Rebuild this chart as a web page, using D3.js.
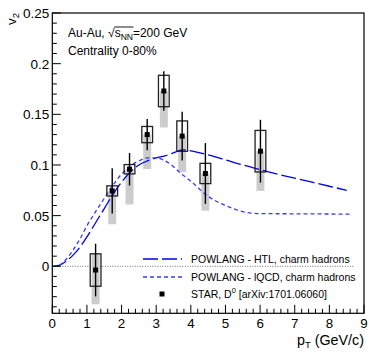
<!DOCTYPE html>
<html><head><meta charset="utf-8">
<script src="https://cdn.jsdelivr.net/npm/d3@7"></script>
<style>body{margin:0;background:#fff;} svg{display:block;font-family:"Liberation Sans",Arial,sans-serif;}</style>
</head><body>
<svg id="c" width="369" height="353"></svg>
<script>
// ---- data ----
const ptData   = [1.25, 1.73, 2.23, 2.74, 3.22, 3.75, 4.42, 6.01];
const v2Data   = [-0.0037, 0.0744, 0.0958, 0.130, 0.173, 0.1285, 0.0916, 0.1136];
const statErr  = [0.026, 0.0224, 0.016, 0.0155, 0.0195, 0.024, 0.030, 0.031];
const sysErr   = [0.016, 0.005, 0.0046, 0.008, 0.0155, 0.015, 0.010, 0.0205];
const nonflowHigh = [0.0125, 0.0744, 0.0958, 0.130, 0.173, 0.1285, 0.0916, 0.1136];
const nonflowLow  = [-0.0375, 0.0415, 0.061, 0.096, 0.137, 0.093, 0.055, 0.0744];

const htlPt = [0, 0.2, 0.4, 0.6, 0.8, 1.0, 1.25, 1.5, 1.75, 2.0, 2.25, 2.5, 2.75, 3.0, 3.25, 3.5, 3.75, 4.0, 4.5, 5.0, 5.5, 6.0, 6.5, 7.0, 7.5, 8.0, 8.5];
const htlV2 = [0, 0.001, 0.005, 0.011, 0.019, 0.029, 0.043, 0.057, 0.071, 0.083, 0.093, 0.100, 0.104, 0.107, 0.109, 0.112, 0.115, 0.114, 0.110, 0.105, 0.100, 0.0955, 0.091, 0.087, 0.083, 0.079, 0.075];
const lqcdPt = [0, 0.2, 0.4, 0.6, 0.8, 1.0, 1.25, 1.5, 1.75, 2.0, 2.25, 2.5, 2.75, 3.0, 3.2, 3.4, 3.7, 4.0, 4.5, 5.0, 5.5, 5.75, 6.0, 7.0, 8.0, 8.6];
const lqcdV2 = [0, 0.001, 0.007, 0.016, 0.027, 0.040, 0.054, 0.067, 0.080, 0.091, 0.099, 0.104, 0.107, 0.107, 0.105, 0.101, 0.092, 0.084, 0.069, 0.060, 0.054, 0.0525, 0.052, 0.0518, 0.0516, 0.0515];

const xTicks = [0,1,2,3,4,5,6,7,8,9];
const yTicks = [0, 0.05, 0.1, 0.15, 0.2, 0.25];
const yTickLabels = ["0","0.05","0.1","0.15","0.2","0.25"];
const legendLabels = ["POWLANG - HTL, charm hadrons", "POWLANG - lQCD, charm hadrons", "STAR, D", " [arXiv:1701.06060]"];

// ---- layout ----
const svg = d3.select("#c");
const L = 52.3, R = 364, T = 13, B = 313.3;
const x = d3.scaleLinear().domain([0, 9]).range([L, R]);
const y = d3.scaleLinear().domain([-0.0464, 0.25]).range([B, T]);

svg.append("defs").append("clipPath").attr("id","clip")
  .append("rect").attr("x",L).attr("y",T).attr("width",R-L).attr("height",B-T);

// zero line
svg.append("line").attr("x1",x(0)).attr("x2",x(8.7)).attr("y1",y(0)).attr("y2",y(0))
  .attr("stroke","#888").attr("stroke-width",1.2).attr("stroke-dasharray","1,1.5");

const pts = ptData.map((p,i)=>({p, v:v2Data[i], s:statErr[i], sy:sysErr[i], lo:nonflowLow[i], hi:nonflowHigh[i]}));
const dx = 0.155, gdx = 0.115;

// gray non-flow bands
svg.append("g").selectAll("rect").data(pts).join("rect")
  .attr("x", d=>x(d.p-gdx)).attr("width", d=>x(d.p+gdx)-x(d.p-gdx))
  .attr("y", d=>y(d.hi)).attr("height", d=>y(d.lo)-y(d.hi))
  .attr("fill","#cccccc");

// curves
const line = d3.line().x(d=>x(d[0])).y(d=>y(d[1])).curve(d3.curveMonotoneX);
const cg = svg.append("g").attr("clip-path","url(#clip)");
cg.append("path").attr("d", line(htlPt.map((p,i)=>[p,htlV2[i]])))
  .attr("fill","none").attr("stroke","#0000ee").attr("stroke-width",1.3).attr("stroke-dasharray","15,4");
cg.append("path").attr("d", line(lqcdPt.map((p,i)=>[p,lqcdV2[i]])))
  .attr("fill","none").attr("stroke","#3a3aff").attr("stroke-width",1.3).attr("stroke-dasharray","4,3");

// sys boxes
svg.append("g").selectAll("rect").data(pts).join("rect")
  .attr("x", d=>x(d.p-dx)).attr("width", d=>x(d.p+dx)-x(d.p-dx))
  .attr("y", d=>y(d.v+d.sy)).attr("height", d=>y(d.v-d.sy)-y(d.v+d.sy))
  .attr("fill","none").attr("stroke","#222").attr("stroke-width",1.3);
// stat bars
svg.append("g").selectAll("line").data(pts).join("line")
  .attr("x1", d=>x(d.p)).attr("x2", d=>x(d.p))
  .attr("y1", d=>y(d.v+d.s)).attr("y2", d=>y(d.v-d.s))
  .attr("stroke","#000").attr("stroke-width",1.4);
// markers
svg.append("g").selectAll("rect").data(pts).join("rect")
  .attr("x", d=>x(d.p)-2.5).attr("y", d=>y(d.v)-2.5).attr("width",5).attr("height",5).attr("fill","#000");

// frame
svg.append("rect").attr("x",L).attr("y",T).attr("width",R-L).attr("height",B-T)
  .attr("fill","none").attr("stroke","#000").attr("stroke-width",1.2);

// x ticks (inside)
const xMinor = d3.range(0, 9.001, 0.2);
svg.append("g").selectAll("line").data(xMinor).join("line")
  .attr("x1", d=>x(d)).attr("x2", d=>x(d)).attr("y1", B).attr("y2", d=> Math.abs(d-Math.round(d))<1e-6 ? B-8.5 : B-4.5)
  .attr("stroke","#000").attr("stroke-width",1);
svg.append("g").selectAll("text").data(xTicks).join("text")
  .attr("x", d=>x(d)).attr("y", B+14.6).attr("text-anchor","middle").attr("font-size",13.3).text(d=>d);

// y ticks
const yMinor = d3.range(-0.04, 0.2501, 0.01);
svg.append("g").selectAll("line").data(yMinor).join("line")
  .attr("y1", d=>y(d)).attr("y2", d=>y(d)).attr("x1", L).attr("x2", d=> Math.abs(d*20-Math.round(d*20))<1e-6 ? L+8.5 : L+4.5)
  .attr("stroke","#000").attr("stroke-width",1);
svg.append("g").selectAll("text").data(yTicks).join("text")
  .attr("x", L-3).attr("y", d=>y(d)+5).attr("text-anchor","end").attr("font-size",13.5).text((d,i)=>yTickLabels[i]);

// axis titles
const yt = svg.append("text").attr("transform","translate(16,13) rotate(-90)").attr("text-anchor","end").attr("font-size",13.5);
yt.append("tspan").text("v");
yt.append("tspan").attr("font-size",9.5).attr("dy",3).text("2");
const xt = svg.append("text").attr("x",R).attr("y",344.5).attr("text-anchor","end").attr("font-size",14.3);
xt.append("tspan").text("p");
xt.append("tspan").attr("font-size",9.5).attr("dy",3.5).text("T");
xt.append("tspan").attr("dy",-3.5).text(" (GeV/c)");

// annotations
const a1 = svg.append("text").attr("x",68).attr("y",37).attr("font-size",12);
a1.append("tspan").text("Au-Au, ");
a1.append("tspan").text("\u221A");
a1.append("tspan").text("s");
a1.append("tspan").attr("font-size",8.5).attr("dy",3).text("NN");
a1.append("tspan").attr("dy",-3).text("=200 GeV");
// overline over s_NN
{
  const n1 = a1.node();
  const start = "Au-Au, \u221A".length;
  const s0 = n1.getStartPositionOfChar(start);
  const e0 = n1.getEndPositionOfChar(start + 2);
  svg.append("line").attr("x1", s0.x - 0.5).attr("x2", e0.x + 0.5).attr("y1", 27).attr("y2", 27)
    .attr("stroke","#000").attr("stroke-width",0.9);
}
svg.append("text").attr("x",68).attr("y",55).attr("font-size",12).text("Centrality 0-80%");

// legend
const lx1 = 143, lx2 = 182, tx = 191;
const ly = [259, 277, 294];
svg.append("line").attr("x1",lx1).attr("x2",lx2).attr("y1",ly[0]).attr("y2",ly[0])
  .attr("stroke","#0000ee").attr("stroke-width",1.3).attr("stroke-dasharray","15,4");
svg.append("line").attr("x1",lx1).attr("x2",lx2).attr("y1",ly[1]).attr("y2",ly[1])
  .attr("stroke","#3a3aff").attr("stroke-width",1.3).attr("stroke-dasharray","4,3");
svg.append("rect").attr("x",162-2.5).attr("y",ly[2]-2.5).attr("width",5).attr("height",5).attr("fill","#000");
svg.append("text").attr("x",tx).attr("y",ly[0]+4).attr("font-size",10.5).text(legendLabels[0]);
svg.append("text").attr("x",tx).attr("y",ly[1]+4).attr("font-size",10.5).text(legendLabels[1]);
const l3 = svg.append("text").attr("x",tx).attr("y",ly[2]+4).attr("font-size",10.5);
l3.append("tspan").text(legendLabels[2]);
l3.append("tspan").attr("font-size",7.5).attr("dy",-5).text("0");
l3.append("tspan").attr("dy",5).text(legendLabels[3]);
</script>
</body></html>
